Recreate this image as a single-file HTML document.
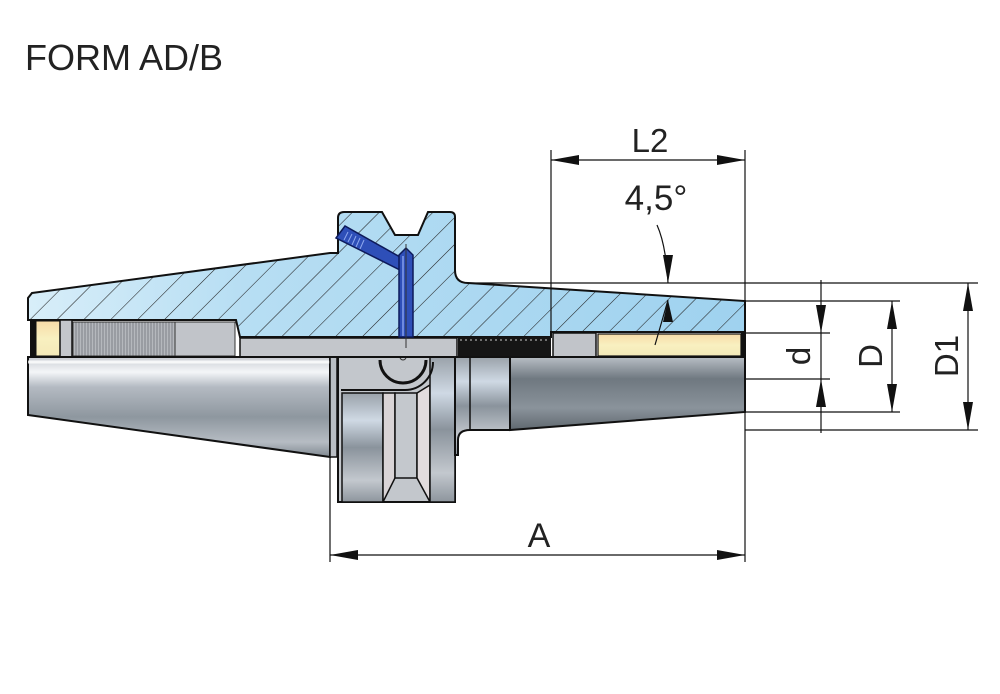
<!DOCTYPE html>
<html><head><meta charset="utf-8"><style>
html,body{margin:0;padding:0;background:#fff;}
svg{display:block;}
text{font-family:"Liberation Sans",Arial,sans-serif;fill:#222;}
</style></head><body>
<svg width="1000" height="694" viewBox="0 0 1000 694" xmlns="http://www.w3.org/2000/svg">
<defs>
<linearGradient id="blue" x1="0" y1="0" x2="1" y2="0">
<stop offset="0" stop-color="#d8eef9"/><stop offset="0.3" stop-color="#b7def3"/><stop offset="1" stop-color="#9fd2ef"/>
</linearGradient>
<pattern id="hatch" width="19" height="19" patternUnits="userSpaceOnUse" patternTransform="rotate(45)">
<line x1="0" y1="0" x2="0" y2="19" stroke="#222" stroke-width="1.1"/>
</pattern>
<linearGradient id="metal" x1="0" y1="0" x2="0" y2="1">
<stop offset="0" stop-color="#c9ccd2"/><stop offset="0.15" stop-color="#f4f6f8"/><stop offset="0.3" stop-color="#b4bac2"/>
<stop offset="0.6" stop-color="#8e979f"/><stop offset="0.85" stop-color="#b6bcc3"/><stop offset="1" stop-color="#7f8890"/>
</linearGradient>
<linearGradient id="metalv" x1="0" y1="0" x2="0" y2="1">
<stop offset="0" stop-color="#9aa2aa"/><stop offset="0.25" stop-color="#cfd9e4"/><stop offset="0.5" stop-color="#8a939c"/>
<stop offset="0.8" stop-color="#c3c8ce"/><stop offset="1" stop-color="#8d959d"/>
</linearGradient>
<linearGradient id="dark" x1="0" y1="0" x2="0" y2="1">
<stop offset="0" stop-color="#b8bec5"/><stop offset="0.3" stop-color="#6f7880"/><stop offset="0.7" stop-color="#8a939b"/><stop offset="1" stop-color="#5f686f"/>
</linearGradient>
<linearGradient id="yel" x1="0" y1="0" x2="0" y2="1">
<stop offset="0" stop-color="#f7dba8"/><stop offset="0.5" stop-color="#f8f0c0"/><stop offset="1" stop-color="#f4e9b8"/>
</linearGradient>
<pattern id="thr" width="3" height="10" patternUnits="userSpaceOnUse"><rect width="3" height="10" fill="#b5b8bd"/><line x1="1" y1="0" x2="1" y2="10" stroke="#7d8086" stroke-width="1"/></pattern>
</defs>

<text x="25" y="70" font-size="36">FORM AD/B</text>

<!-- Lower metal parts -->
<polygon points="28,357 330,357 330,457 28,415" fill="url(#metal)" stroke="#111" stroke-width="2"/>
<line x1="28" y1="362" x2="330" y2="362" stroke="#fff" stroke-width="3" opacity="0.8"/>
<rect x="330" y="357" width="7" height="100" fill="#b9bec4" stroke="#111" stroke-width="1.5"/>
<!-- flange lower -->
<rect x="338" y="357" width="117" height="145" fill="#c3c7cc" stroke="#111" stroke-width="2"/>
<rect x="342" y="393" width="41" height="109" fill="url(#metalv)" stroke="#111" stroke-width="1.5"/>
<polygon points="383,393 395,393 395,478 383,502" fill="#d9d4d6" stroke="#111" stroke-width="1.5"/>
<rect x="395" y="393" width="22" height="85" fill="#c4c8cd" stroke="#111" stroke-width="1.5"/>
<polygon points="417,393 430,385 430,502 417,478" fill="#e2dcde" stroke="#111" stroke-width="1.5"/>
<rect x="430" y="357" width="25" height="145" fill="url(#metalv)" stroke="#111" stroke-width="1.5"/>
<path d="M341,390 L405,390 A28,28 0 0 0 433,362" fill="none" stroke="#111" stroke-width="2"/>
<path d="M380,360 A23,23 0 0 0 426,360" fill="none" stroke="#111" stroke-width="3"/>
<circle cx="403" cy="357" r="3" fill="none" stroke="#333"/>
<!-- shank -->
<path d="M455,357 L510,357 L510,430 L470,430 Q458,430 458,440 L458,455 L455,455 Z" fill="url(#metalv)" stroke="#111" stroke-width="2"/>
<line x1="470" y1="357" x2="470" y2="430" stroke="#111" stroke-width="1.5"/>
<polygon points="510,357 745,357 745,412 510,430" fill="url(#dark)" stroke="#111" stroke-width="2"/>

<!-- Hatched upper section -->
<path d="M32,293 L330,253 L338,253 L338,218 Q338,212 344,212 L382,212 L395,235 L418,235 L428,212 L450,212 Q455,212 455,217 L455,270 Q455,283 468,283 L745,301 L745,332 L551,332 L551,337 L240,337 L236,320 L28,320 L28,298 Z" fill="url(#blue)"/>
<path d="M32,293 L330,253 L338,253 L338,218 Q338,212 344,212 L382,212 L395,235 L418,235 L428,212 L450,212 Q455,212 455,217 L455,270 Q455,283 468,283 L745,301 L745,332 L551,332 L551,337 L240,337 L236,320 L28,320 L28,298 Z" fill="url(#hatch)" stroke="#111" stroke-width="2"/>

<!-- inner bore parts -->
<rect x="30" y="320" width="6" height="37" fill="#111"/>
<rect x="36" y="321" width="24" height="35" fill="url(#yel)" stroke="#111" stroke-width="1"/>
<rect x="60" y="320" width="12" height="37" fill="#c3c6cb" stroke="#111" stroke-width="1.5"/>
<rect x="73" y="322" width="102" height="34" fill="url(#thr)" stroke="#333" stroke-width="1"/>
<rect x="175" y="322" width="60" height="34" fill="#c1c4c9" stroke="#333" stroke-width="1"/>
<rect x="240" y="338" width="217" height="19" fill="#c3c6cb" stroke="#111" stroke-width="1.5"/>
<rect x="458" y="337" width="93" height="20" fill="#151515"/>
<line x1="460" y1="340" x2="550" y2="340" stroke="#ccc" stroke-width="1" stroke-dasharray="2,3"/>
<rect x="553" y="333" width="43" height="24" fill="#c1c4c9" stroke="#111" stroke-width="1.5"/>
<rect x="598" y="334" width="143" height="22" fill="url(#yel)" stroke="#111" stroke-width="1.2"/>
<rect x="741" y="332" width="5" height="25" fill="#111"/>
<line x1="28" y1="357" x2="745" y2="357" stroke="#111" stroke-width="2"/>

<!-- blue pins -->
<polygon points="336,238 345,226 400,257 400,270" fill="#2e4fb8" stroke="#0d1a5a" stroke-width="1.5"/>
<g stroke="#8fa8ee" stroke-width="1"><line x1="348" y1="232" x2="344" y2="240"/><line x1="352" y1="234" x2="348" y2="242"/><line x1="356" y1="236" x2="352" y2="245"/><line x1="360" y1="238" x2="356" y2="247"/><line x1="364" y1="240" x2="360" y2="249"/></g>
<polygon points="399,255 406,248 413,255 413,337 399,337" fill="#2e4fb8" stroke="#0d1a5a" stroke-width="1.5"/>
<line x1="403" y1="256" x2="403" y2="336" stroke="#6e8ae0" stroke-width="2"/>
<line x1="406" y1="244" x2="406" y2="348" stroke="#333" stroke-width="1"/>

<!-- dimension lines -->
<g stroke="#111" stroke-width="1.2" fill="none">
<line x1="551" y1="150" x2="551" y2="337"/>
<line x1="745" y1="150" x2="745" y2="562"/>
<line x1="551" y1="160" x2="745" y2="160"/>
<line x1="330" y1="457" x2="330" y2="562"/>
<line x1="330" y1="555" x2="745" y2="555"/>
<line x1="468" y1="283" x2="978" y2="283"/>
<line x1="745" y1="301" x2="900" y2="301"/>
<line x1="745" y1="333" x2="830" y2="333"/>
<line x1="745" y1="379" x2="830" y2="379"/>
<line x1="745" y1="412" x2="900" y2="412"/>
<line x1="745" y1="430" x2="978" y2="430"/>
<line x1="821" y1="280" x2="821" y2="433"/>
<line x1="892" y1="301" x2="892" y2="412"/>
<line x1="968" y1="283" x2="968" y2="430"/>
<path d="M657,225 Q666,245 668,283"/>
<line x1="668" y1="300" x2="655" y2="345"/>
</g>
<g fill="#111">
<polygon points="551,160 579,155 579,165"/>
<polygon points="745,160 717,155 717,165"/>
<polygon points="330,555 358,550 358,560"/>
<polygon points="745,555 717,550 717,560"/>
<polygon points="821,333 816,305 826,305"/>
<polygon points="821,379 816,407 826,407"/>
<polygon points="892,301 887,329 897,329"/>
<polygon points="892,412 887,384 897,384"/>
<polygon points="968,283 963,311 973,311"/>
<polygon points="968,430 963,402 973,402"/>
<polygon points="668,283 663,255 673,255"/>
<polygon points="668,300 663,322 673,322"/>
</g>

<text x="650" y="152" font-size="33" text-anchor="middle">L2</text>
<text x="656" y="210" font-size="35" text-anchor="middle">4,5°</text>
<text x="539" y="547" font-size="34" text-anchor="middle">A</text>
<text transform="translate(810,356) rotate(-90)" font-size="33" text-anchor="middle">d</text>
<text transform="translate(882,356) rotate(-90)" font-size="33" text-anchor="middle">D</text>
<text transform="translate(958,356) rotate(-90)" font-size="33" text-anchor="middle">D1</text>
</svg>
</body></html>
